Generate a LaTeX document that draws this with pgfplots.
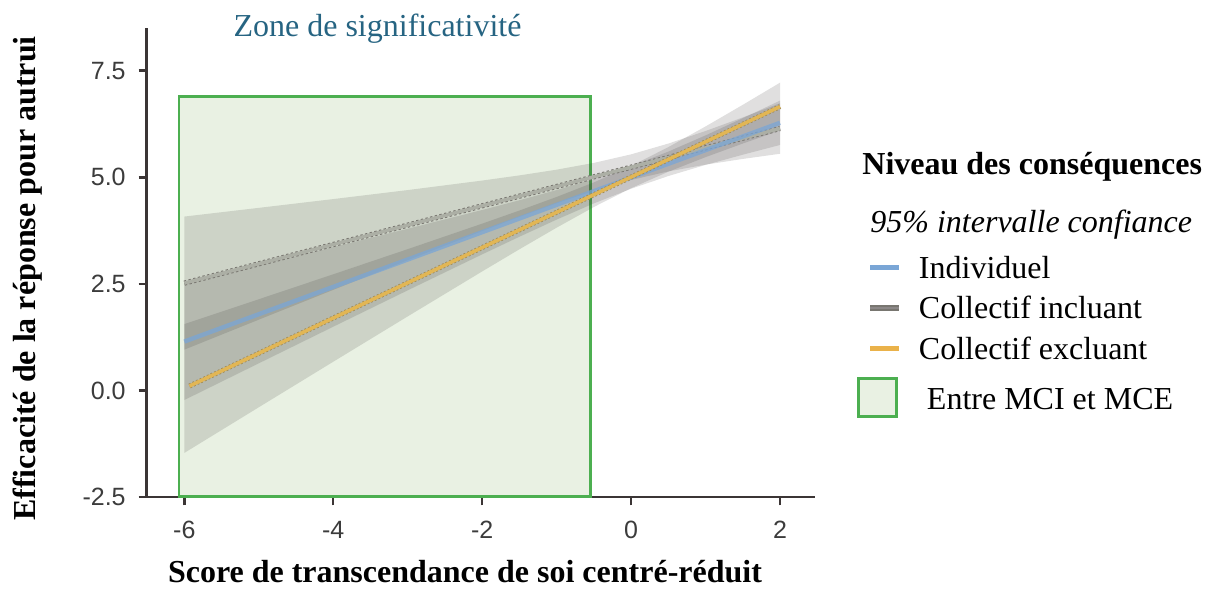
\documentclass[border=0pt]{standalone}
\usepackage{pgfplots}
\pgfplotsset{compat=1.18}
\usepackage{fontspec}
\setmainfont{Liberation Serif}
\newfontfamily\ticksans{Liberation Sans}
\definecolor{bluec}{RGB}{122,166,214}
\definecolor{grayc}{RGB}{172,175,165}
\definecolor{grayd}{RGB}{120,118,112}
\definecolor{graylg}{RGB}{140,136,136}
\definecolor{orangec}{RGB}{226,182,84}
\definecolor{oranged}{RGB}{160,140,90}
\definecolor{orangelg}{RGB}{234,178,74}
\definecolor{bandc}{RGB}{60,55,55}
\definecolor{zonefill}{RGB}{233,241,227}
\definecolor{zoneedge}{RGB}{76,175,80}
\definecolor{axisc}{RGB}{59,53,53}
\definecolor{tickc}{RGB}{60,60,60}
\definecolor{titlec}{RGB}{38,100,130}
\begin{document}
\begin{tikzpicture}
\useasboundingbox (0,0) rectangle (603pt,297.5pt);
\begin{axis}[
 at={(73.35pt,48.85pt)}, anchor=south west,
 scale only axis, width=334.15pt, height=234.65pt,
 xmin=-6.505, xmax=2.47, ymin=-2.5, ymax=8.5,
 axis x line=bottom, axis y line=left,
 axis line style={-, color=axisc, line width=1.2pt},
 tick align=outside, major tick length=4pt,
 tick style={color=axisc, line width=1.2pt},
 xtick={-6,-4,-2,0,2}, xticklabels={-6,-4,-2,0,2},
 ytick={-2.5,0,2.5,5,7.5}, yticklabels={-2.5,0.0,2.5,5.0,7.5},
 ticklabel style={font=\ticksans\fontsize{12.5pt}{15pt}\selectfont, text=tickc},
 xticklabel style={yshift=-4.5pt},
 yticklabel style={xshift=-3pt},
 legend style={at={(1.0628,0.5142)}, anchor=north west, draw=none, fill=none,
   inner sep=0pt, outer sep=0pt, font=\fontsize{16pt}{19pt}\selectfont,
   /tikz/row sep=7.5pt, /tikz/column sep=8.5pt, nodes={inner sep=0pt}},
 legend cell align=left,
]
% zone de significativite
\addplot[forget plot, draw=zoneedge, line width=1.4pt, fill=zonefill]
 coordinates {(-6.071,-2.48) (-6.071,6.886) (-0.541,6.886) (-0.541,-2.48)} -- cycle;
% CI band: collectif incluant
\addplot[forget plot, draw=none, fill=bandc, fill opacity=0.16] coordinates {
 (-6,4.080) (-5,4.284) (-4,4.490) (-3,4.701) (-2,4.924) (-1.5,5.045) (-1,5.179) (-0.5,5.338) (0,5.538) (0.5,5.791) (1,6.085) (1.5,6.404) (2,6.736)
 (2,5.552) (1.5,5.431) (1,5.297) (0.5,5.139) (0,4.938) (-0.5,4.686) (-1,4.391) (-1.5,4.072) (-2,3.740) (-3,3.057) (-4,2.362) (-5,1.663) (-6,0.960)} -- cycle;
% CI band: individuel
\addplot[forget plot, draw=none, fill=bandc, fill opacity=0.16] coordinates {
 (-6,2.520) (-5,2.942) (-4,3.366) (-3,3.795) (-2,4.234) (-1.5,4.462) (-1,4.701) (-0.5,4.962) (0,5.260) (0.5,5.603) (1,5.983) (1.5,6.385) (2,6.798)
 (2,5.758) (1.5,5.530) (1,5.291) (0.5,5.030) (0,4.732) (-0.5,4.389) (-1,4.009) (-1.5,3.607) (-2,3.194) (-3,2.351) (-4,1.498) (-5,0.640) (-6,-0.220)} -- cycle;
% CI band: collectif excluant
\addplot[forget plot, draw=none, fill=bandc, fill opacity=0.16] coordinates {
 (-6,1.560) (-5,2.142) (-4,2.727) (-3,3.316) (-2,3.914) (-1.5,4.221) (-1,4.540) (-0.5,4.881) (0,5.266) (0.5,5.707) (1,6.192) (1.5,6.699) (2,7.218)
 (2,6.098) (1.5,5.791) (1,5.472) (0.5,5.131) (0,4.746) (-0.5,4.305) (-1,3.820) (-1.5,3.313) (-2,2.794) (-3,1.740) (-4,0.677) (-5,-0.390) (-6,-1.460)} -- cycle;
% lines
\addplot[forget plot, grayd, line width=2.6pt, dash pattern=on 1.2pt off 1.2pt] coordinates {(-6,2.52) (2,6.144)};
\addplot[forget plot, grayc, line width=1.7pt] coordinates {(-6,2.52) (2,6.144)};
\addplot[forget plot, bluec, line width=2.2pt, opacity=0.75] coordinates {(-6,1.15) (2,6.278)};
\addplot[forget plot, oranged, line width=2.5pt, dash pattern=on 1pt off 1pt] coordinates {(-5.93,0.108) (2,6.658)};
\addplot[forget plot, orangec, line width=1.7pt] coordinates {(-5.93,0.108) (2,6.658)};
% legend
\addlegendimage{legend image code/.code={\draw[bluec, line width=2.2pt] (6pt,0.5pt) -- (20.5pt,0.5pt);}}
\addlegendentry{\rule[-4pt]{0pt}{12pt}Individuel}
\addlegendimage{legend image code/.code={\draw[grayd, line width=2.6pt] (6pt,0.5pt) -- (20.5pt,0.5pt); \draw[graylg, line width=1.4pt] (6pt,0.5pt) -- (20.5pt,0.5pt);}}
\addlegendentry{\rule[-4pt]{0pt}{12pt}Collectif incluant}
\addlegendimage{legend image code/.code={\draw[orangelg, line width=2.2pt] (6pt,0.5pt) -- (20.5pt,0.5pt);}}
\addlegendentry{\rule[-4pt]{0pt}{12pt}Collectif excluant}
\addlegendimage{legend image code/.code={\draw[zoneedge, line width=1.4pt, fill=zonefill] (0pt,-8pt) rectangle (19pt,11pt);}}
\addlegendentry{\rule[-4pt]{0pt}{13pt}\hspace{4pt}Entre MCI et MCE}
\end{axis}
\node[anchor=base, inner sep=0pt, font=\bfseries\fontsize{16pt}{19pt}\selectfont] at (232.5pt,6pt) {Score de transcendance de soi centré-réduit};
\node[rotate=90, inner sep=0pt, font=\bfseries\fontsize{16pt}{19pt}\selectfont] at (14pt,158.25pt) {Efficacité de la réponse pour autrui};
\node[anchor=base, inner sep=0pt, text=titlec, font=\fontsize{16pt}{19pt}\selectfont] at (188.75pt,279pt) {Zone de significativité};
\node[anchor=base west, inner sep=0pt, font=\bfseries\fontsize{16pt}{19pt}\selectfont] at (431pt,210pt) {Niveau des conséquences};
\node[anchor=base west, inner sep=0pt, font=\itshape\fontsize{16pt}{19pt}\selectfont] at (435pt,181pt) {95\% intervalle confiance};
\end{tikzpicture}
\end{document}
